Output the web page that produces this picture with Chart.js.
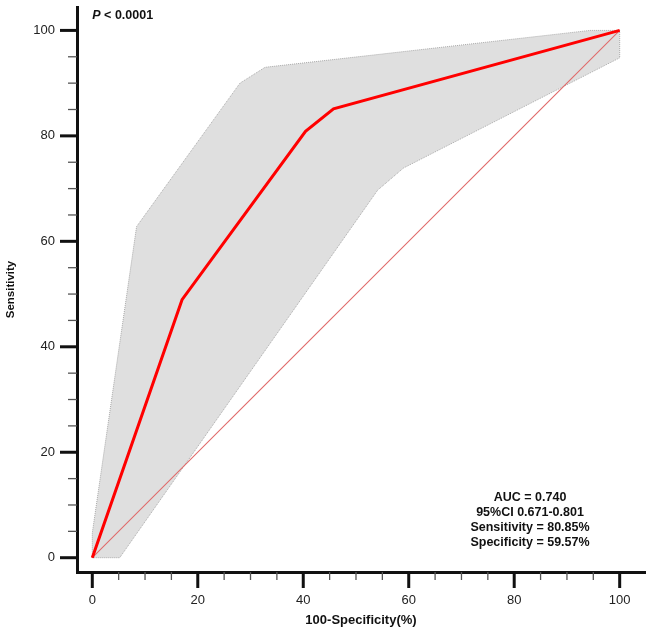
<!DOCTYPE html>
<html>
<head>
<meta charset="utf-8">
<script src="https://cdn.jsdelivr.net/npm/chart.js@4.4.0/dist/chart.umd.min.js"></script>
<style>
  html, body { margin: 0; padding: 0; background: #fff; }
  #wrap { width: 650px; height: 632px; }
</style>
</head>
<body>
<div id="wrap"><canvas id="rocChart" width="650" height="632"></canvas></div>
<script>
// ROC curve (100-specificity vs sensitivity)
const rocX = [0, 17.02, 40.43, 45.74, 100];
const rocY = [0, 48.94, 80.85, 85.11, 100];

// 95% CI band, upper and lower edges
const upperX = [0, 0, 8.4, 28.0, 32.75, 94.4, 100];
const upperY = [0, 4.7, 62.8, 90.0, 93.0, 100, 100];
const lowerX = [0, 5.2, 54.1, 59.0, 100, 100];
const lowerY = [0, 0, 69.7, 73.9, 94.8, 100];

// reference diagonal
const diagX = [0, 100];
const diagY = [0, 100];

const majorTicks = [0, 20, 40, 60, 80, 100];
const minorStep = 5;

const pText = ['P', ' < 0.0001'];
const statLines = [
    'AUC = 0.740',
    '95%CI 0.671-0.801',
    'Sensitivity = 80.85%',
    'Specificity = 59.57%'
];

const FONT = "'Liberation Sans', Arial, Helvetica, sans-serif";
Chart.defaults.font.family = FONT;
Chart.defaults.color = '#222';

function toPoints(xs, ys) {
    return xs.map((x, i) => ({ x: x, y: ys[i] }));
}

const allTicks = [];
for (let v = 0; v <= 100; v += minorStep) allTicks.push(v);

// grey fill between the two CI edges
const bandFill = {
    id: 'bandFill',
    beforeDatasetsDraw(chart) {
        const { ctx } = chart;
        const xs = chart.scales.x, ys = chart.scales.y;
        ctx.save();
        ctx.beginPath();
        upperX.forEach((x, i) => {
            const px = xs.getPixelForValue(x), py = ys.getPixelForValue(upperY[i]);
            if (i === 0) ctx.moveTo(px, py); else ctx.lineTo(px, py);
        });
        for (let i = lowerX.length - 1; i >= 0; i--) {
            ctx.lineTo(xs.getPixelForValue(lowerX[i]), ys.getPixelForValue(lowerY[i]));
        }
        ctx.closePath();
        ctx.fillStyle = '#dfdfdf';
        ctx.fill();
        ctx.restore();
    }
};

// tick marks (long at majors, short at minors) + text annotations
const decorations = {
    id: 'decorations',
    afterDraw(chart) {
        const { ctx, chartArea } = chart;
        const xs = chart.scales.x, ys = chart.scales.y;
        ctx.save();
        allTicks.forEach(v => {
            const major = majorTicks.includes(v);
            ctx.strokeStyle = major ? '#111' : '#555';
            ctx.lineWidth = major ? 3 : 1.3;
            const len = major ? 16 : 8;
            const px = xs.getPixelForValue(v);
            ctx.beginPath();
            ctx.moveTo(px, chartArea.bottom);
            ctx.lineTo(px, chartArea.bottom + len);
            ctx.stroke();
            const py = ys.getPixelForValue(v);
            ctx.beginPath();
            ctx.moveTo(chartArea.left, py);
            ctx.lineTo(chartArea.left - len - 1, py);
            ctx.stroke();
        });

        // P value, top left
        ctx.fillStyle = '#111';
        ctx.textBaseline = 'middle';
        ctx.textAlign = 'left';
        let tx = xs.getPixelForValue(0);
        const ty = ys.getPixelForValue(102.9);
        ctx.font = 'italic bold 12.5px ' + FONT;
        ctx.fillText(pText[0], tx, ty);
        tx += ctx.measureText(pText[0]).width;
        ctx.font = 'bold 12.5px ' + FONT;
        ctx.fillText(pText[1], tx, ty);

        // AUC block, bottom right
        ctx.textAlign = 'center';
        const cx = xs.getPixelForValue(83);
        const cy = ys.getPixelForValue(11.5);
        statLines.forEach((s, i) => {
            ctx.fillText(s, cx, cy + i * 15.2);
        });
        ctx.restore();
    }
};

new Chart(document.getElementById('rocChart'), {
    type: 'scatter',
    data: {
        datasets: [
            {
                label: 'ROC',
                data: toPoints(rocX, rocY),
                showLine: true,
                borderColor: '#ff0000',
                borderWidth: 3,
                pointRadius: 0,
                tension: 0,
                order: 0
            },
            {
                label: 'Reference',
                data: toPoints(diagX, diagY),
                showLine: true,
                borderColor: '#e06a6a',
                borderWidth: 1.1,
                pointRadius: 0,
                order: 1
            },
            {
                label: 'CI upper',
                data: toPoints(upperX, upperY),
                showLine: true,
                borderColor: '#a9a9a9',
                borderWidth: 1,
                borderDash: [1, 1],
                pointRadius: 0,
                order: 2
            },
            {
                label: 'CI lower',
                data: toPoints(lowerX, lowerY),
                showLine: true,
                borderColor: '#a9a9a9',
                borderWidth: 1,
                borderDash: [1, 1],
                pointRadius: 0,
                order: 2
            }
        ]
    },
    options: {
        responsive: false,
        animation: false,
        layout: {
            padding: { top: 7, right: 5, left: 0, bottom: 0 }
        },
        plugins: {
            legend: { display: false },
            tooltip: { enabled: false }
        },
        scales: {
            x: {
                type: 'linear',
                min: -2.9,
                max: 104.8,
                afterBuildTicks: (scale) => {
                    scale.ticks = majorTicks.map(v => ({ value: v }));
                },
                afterFit: (scale) => {
                    scale.height = 60;
                    scale.paddingLeft = 0;
                    scale.paddingRight = 0;
                },
                grid: { display: false, drawTicks: false },
                border: { display: true, color: '#111', width: 3 },
                ticks: {
                    padding: 21,
                    maxRotation: 0,
                    color: '#222',
                    font: { size: 13 }
                },
                title: {
                    display: true,
                    text: '100-Specificity(%)',
                    color: '#111',
                    font: { size: 13, weight: 'bold' },
                    padding: { top: 0, bottom: 4 }
                }
            },
            y: {
                type: 'linear',
                min: -2.71,
                max: 104.44,
                afterBuildTicks: (scale) => {
                    scale.ticks = majorTicks.map(v => ({ value: v }));
                },
                afterFit: (scale) => {
                    scale.width = 77;
                    scale.paddingTop = 0;
                    scale.paddingBottom = 0;
                },
                grid: { display: false, drawTicks: false },
                border: { display: true, color: '#111', width: 3 },
                ticks: {
                    padding: 22,
                    color: '#222',
                    font: { size: 13 }
                },
                title: {
                    display: true,
                    text: 'Sensitivity',
                    color: '#111',
                    font: { size: 11.5, weight: 'bold' },
                    padding: { top: 4, bottom: 0 }
                }
            }
        }
    },
    plugins: [bandFill, decorations]
});
</script>
</body>
</html>
